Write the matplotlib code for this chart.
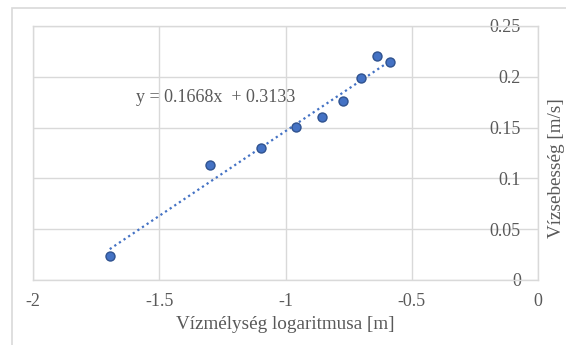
import numpy as np
import matplotlib.pyplot as plt
from matplotlib.patches import Rectangle

plt.rcParams['font.family'] = ['Liberation Serif', 'DejaVu Serif']

# measured points: log of water depth vs. water velocity
log_depth = np.array([-1.696, -1.300, -1.099, -0.957, -0.854, -0.771, -0.700, -0.636, -0.585])
velocity = np.array([0.0237, 0.113, 0.130, 0.151, 0.160, 0.1765, 0.199, 0.220, 0.215])

# linear trendline coefficients
slope = 0.1668
intercept = 0.3133

x_ticks = [-2, -1.5, -1, -0.5, 0]
y_ticks = [0, 0.05, 0.1, 0.15, 0.2, 0.25]

text_col = '#595959'
grid_col = '#D9D9D9'
blue = '#4472C4'

fig = plt.figure(figsize=(5.66, 3.45), dpi=100)
ax = fig.add_axes([33 / 566, 1 - 280 / 345, 505 / 566, 254 / 345])

# chart area border (runs off the right and bottom edge)
fig.patches.append(Rectangle((12 / 566, -0.1), 1.2, 1 - 8 / 345 + 0.1,
                             transform=fig.transFigure, fill=False,
                             edgecolor=grid_col, linewidth=1.2))

ax.set_xlim(-2, 0)
ax.set_ylim(0, 0.25)
ax.set_xticks(x_ticks)
ax.set_yticks(y_ticks)
ax.set_xticklabels([f'{v:g}' for v in x_ticks])
ax.set_yticklabels([f'{v:g}' for v in y_ticks])
ax.grid(True, color=grid_col, linewidth=1)
ax.set_axisbelow(True)
for s in ax.spines.values():
    s.set_color(grid_col)
    s.set_linewidth(1)

ax.tick_params(axis='x', length=0, pad=9, labelsize=13, labelcolor=text_col)
ax.tick_params(axis='y', length=0, pad=-12.3, labelsize=13, labelcolor=text_col,
               left=False, labelleft=False, right=True, labelright=True)
plt.setp(ax.get_yticklabels(), ha='right')

xs = np.array([log_depth.min(), log_depth.max()])
ax.plot(xs, slope * xs + intercept, linestyle=(0, (1, 1.5)), color=blue, linewidth=1.6,
        zorder=2)
ax.scatter(log_depth, velocity, s=42, color=blue, edgecolor='#2F528F', linewidth=1,
           zorder=3)

ax.text(-1.593, 0.1795, f'y = {slope:.4f}x  + {intercept:.4f}', fontsize=13,
        color=text_col, va='center', ha='left')

ax.set_xlabel('Vízmélység logaritmusa [m]', fontsize=13.8, color=text_col, labelpad=5)
ax.yaxis.set_label_position('right')
ax.set_ylabel('Vízsebesség [m/s]', fontsize=13.8, color=text_col, rotation=90,
              va='center')
ax.yaxis.set_label_coords(1.037, 0.44)

fig.savefig('out.png', dpi=100)
